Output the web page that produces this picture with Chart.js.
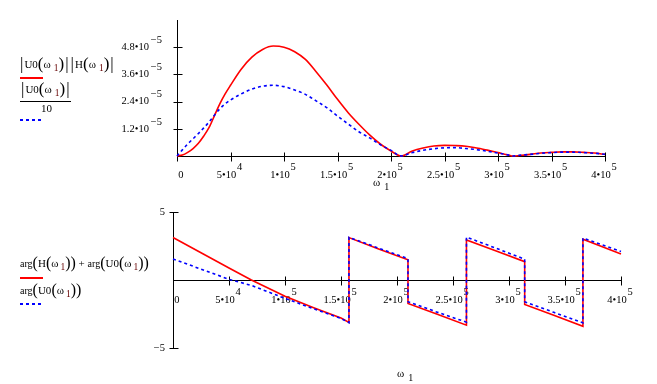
<!DOCTYPE html>
<html><head><meta charset="utf-8">
<script src="https://cdn.jsdelivr.net/npm/chart.js@4/dist/chart.umd.min.js"></script>
<style>
html,body{margin:0;padding:0;background:#fff;}
body{width:657px;height:384px;overflow:hidden;position:relative;font-family:"Liberation Serif","Times New Roman",serif;}
canvas{position:absolute;left:0;}
#c1{top:0;}
#c2{top:195px;}
.lg{position:absolute;white-space:nowrap;color:#000;font-size:11px;line-height:18px;height:18px;}
.lg .p{font-size:17px;vertical-align:-1px;}
.lg .b{font-size:17px;vertical-align:-1px;margin:0 1px;}
.lg .s{font-size:9.5px;position:relative;top:3px;color:#600;margin-left:3px;}
.lg .a{font-size:10px;}
.lg2 .p{font-size:16px;}
.lg2 .s{margin-left:2px;}
.ln{position:absolute;width:23px;height:2px;}
.red{background:#ff0000;}
.blue{background:repeating-linear-gradient(to right,#0000ff 0 3px,transparent 3px 6px);}
.fb{position:absolute;height:1px;background:#000;}
.tt{position:absolute;white-space:nowrap;color:#000;font-size:11px;line-height:12px;}
.tt .s{font-size:10px;position:relative;top:4px;margin-left:4px;}
</style></head>
<body>
<canvas id="c1" width="657" height="195"></canvas>
<canvas id="c2" width="657" height="189"></canvas>

<div class="lg" style="left:19px;top:55px"><span class="b">|</span>U0<span class="p">(</span>ω<span class="s">1</span><span class="p">)</span><span class="b">|</span><span class="b">|</span>H<span class="p">(</span>ω<span class="s">1</span><span class="p">)</span><span class="b">|</span></div>
<div class="ln red" style="left:20px;top:77px"></div>
<div class="lg" style="left:20px;top:80px"><span class="b">|</span>U0<span class="p">(</span>ω<span class="s">1</span><span class="p">)</span><span class="b">|</span></div>
<div class="fb" style="left:20px;top:101px;width:51px"></div>
<div class="lg" style="left:41px;top:99px">10</div>
<div class="ln blue" style="left:20px;top:119px"></div>

<div class="lg lg2" style="left:20px;top:254px"><span class="a">arg</span><span class="p">(</span>H<span class="p">(</span>ω<span class="s">1</span><span class="p">)</span><span class="p">)</span> + <span class="a">arg</span><span class="p">(</span>U0<span class="p">(</span>ω<span class="s">1</span><span class="p">)</span><span class="p">)</span></div>
<div class="ln red" style="left:20px;top:277px"></div>
<div class="lg lg2" style="left:20px;top:281px"><span class="a">arg</span><span class="p">(</span>U0<span class="p">(</span>ω<span class="s">1</span><span class="p">)</span><span class="p">)</span></div>
<div class="ln blue" style="left:20px;top:303px"></div>

<div class="tt" style="left:373px;top:176px">ω<span class="s">1</span></div>
<div class="tt" style="left:397px;top:367px">ω<span class="s">1</span></div>

<script>
// ---- data ----
const magOmega = [0, 5000, 10000, 15000, 20000, 25000, 30000, 35000, 40000, 45000, 50000, 60000, 70000, 80000, 90000, 100000, 110000, 120000, 130000, 140000, 150000, 160000, 170000, 180000, 190000, 200000, 209500, 220000, 230000, 240000, 250000, 260000, 270000, 280000, 290000, 300000, 310000, 314000, 320000, 330000, 340000, 350000, 360000, 370000, 380000, 390000, 400000];
// |U0(w1)|*|H(w1)|
const magU0H = [0, 0.04e-5, 0.16e-5, 0.33e-5, 0.56e-5, 0.88e-5, 1.26e-5, 1.78e-5, 2.3e-5, 2.74e-5, 3.12e-5, 3.83e-5, 4.36e-5, 4.7e-5, 4.85e-5, 4.8e-5, 4.6e-5, 4.26e-5, 3.72e-5, 3.13e-5, 2.5e-5, 1.91e-5, 1.4e-5, 0.93e-5, 0.53e-5, 0.22e-5, 0, 0.22e-5, 0.35e-5, 0.44e-5, 0.47e-5, 0.46e-5, 0.43e-5, 0.35e-5, 0.26e-5, 0.15e-5, 0.04e-5, 0, 0.02e-5, 0.07e-5, 0.13e-5, 0.16e-5, 0.18e-5, 0.18e-5, 0.16e-5, 0.13e-5, 0.07e-5];
// |U0(w1)|/10
const magU0 = [0, 0.27e-5, 0.53e-5, 0.76e-5, 0.99e-5, 1.24e-5, 1.5e-5, 1.8e-5, 2.08e-5, 2.3e-5, 2.47e-5, 2.74e-5, 2.95e-5, 3.08e-5, 3.12e-5, 3.06e-5, 2.91e-5, 2.72e-5, 2.43e-5, 2.13e-5, 1.76e-5, 1.41e-5, 1.07e-5, 0.8e-5, 0.5e-5, 0.25e-5, 0, 0.15e-5, 0.25e-5, 0.32e-5, 0.36e-5, 0.37e-5, 0.33e-5, 0.28e-5, 0.21e-5, 0.13e-5, 0.04e-5, 0, 0.03e-5, 0.07e-5, 0.12e-5, 0.15e-5, 0.17e-5, 0.17e-5, 0.15e-5, 0.12e-5, 0.08e-5];

const phaseOmega = [0, 25000, 50000, 70000, 100000, 125000, 150000, 157100, 157100, 183000, 209800, 209800, 236000, 262000, 262000, 288000, 314000, 314000, 340000, 366000, 366000, 400000];
// arg(H(w1)) + arg(U0(w1))
const phaseSum = [3.12, 2.0, 0.88, 0, -1.2, -2.02, -2.8, -3.12, 3.12, 2.3, 1.48, -1.72, -2.52, -3.32, 2.95, 2.15, 1.35, -1.8, -2.6, -3.4, 3.0, 1.92];
// arg(U0(w1))
const phaseU0 = [1.55, 0.8, 0.05, -0.4, -1.35, -2.1, -2.82, -3.14, 3.14, 2.36, 1.57, -1.6, -2.37, -3.1, 3.15, 2.35, 1.53, -1.6, -2.38, -3.15, 3.08, 2.09];

const xTickBase = ['0', '5•10', '1•10', '1.5•10', '2•10', '2.5•10', '3•10', '3.5•10', '4•10'];
const xTickExp  = ['', '4', '5', '5', '5', '5', '5', '5', '5'];
const magTickBase = ['', '1.2•10', '2.4•10', '3.6•10', '4.8•10', ''];
const magTickExp = '−5';
const phaseTickLabels = ['−5', '', '5'];

// ---- helpers ----
const FAMILY = '"Liberation Serif", "Times New Roman", serif';
const FSIZE = 10.5;
const mctx = document.createElement('canvas').getContext('2d');
mctx.font = FSIZE + 'px ' + FAMILY;
const wOf = s => mctx.measureText(s).width;
const SP = wOf(' ');

function xLabel(value) {
  const k = Math.round(value / 50000);
  const base = xTickBase[k], exp = xTickExp[k];
  if (base === undefined) return '';
  if (!exp) return ['', '   ' + base];
  const t = 3;
  const lead = Math.max(0, Math.round((wOf(base) - t * SP + wOf(exp) + 1) / SP));
  return [' '.repeat(lead) + exp, base + ' '.repeat(t)];
}
function magLabel(value) {
  const k = Math.round(value / 1.2e-5);
  const base = magTickBase[k];
  if (!base) return '';
  const n = Math.round((wOf(magTickExp) + 1) / SP);
  return [magTickExp, base + ' '.repeat(n), ''];
}
function phaseLabel(value) {
  const k = Math.round(value / 5) + 1;
  return phaseTickLabels[k] || '';
}

const axesPlugin = {
  id: 'mcAxes',
  beforeDatasetsDraw(chart, args, opts) {
    const {ctx, chartArea: a, scales: {x, y}} = chart;
    const y0 = Math.round(y.getPixelForValue(0)) + 0.5;
    const x0 = Math.round(x.getPixelForValue(0)) + 0.5;
    ctx.save();
    ctx.strokeStyle = '#000';
    ctx.lineWidth = 1;
    ctx.beginPath();
    ctx.moveTo(x0, a.top); ctx.lineTo(x0, a.bottom);
    ctx.moveTo(a.left, y0); ctx.lineTo(a.right + 1, y0);
    x.ticks.forEach(t => {
      const px = Math.round(x.getPixelForValue(t.value)) + 0.5;
      ctx.moveTo(px, y0 - 4); ctx.lineTo(px, y0 + 5);
    });
    y.ticks.forEach(t => {
      if (!opts.yMark(t.value)) return;
      const py = Math.round(y.getPixelForValue(t.value)) + 0.5;
      ctx.moveTo(x0 - 4, py); ctx.lineTo(x0 + 5, py);
    });
    ctx.stroke();
    ctx.restore();
  }
};

function series(xs, ys) { return xs.map((w, i) => ({x: w, y: ys[i]})); }

const tickFontX = {family: FAMILY, size: FSIZE, lineHeight: '8px'};
const tickFontY = {family: FAMILY, size: FSIZE, lineHeight: '7px'};
const noGrid = {display: false, drawTicks: false, tickLength: 0};

new Chart(document.getElementById('c1'), {
  type: 'line',
  data: {datasets: [
    {data: series(magOmega, magU0H), borderColor: '#ff0000', borderWidth: 1.6, pointRadius: 0,
     cubicInterpolationMode: 'monotone', fill: false, order: 1, clip: 6},
    {data: series(magOmega, magU0), borderColor: '#0000ff', borderWidth: 1.6, borderDash: [3, 3], pointRadius: 0,
     cubicInterpolationMode: 'monotone', fill: false, order: 0, clip: 6}
  ]},
  options: {
    responsive: false, animation: false, devicePixelRatio: 1,
    layout: {padding: {left: 77, right: 52, top: 20, bottom: 0}},
    plugins: {legend: {display: false}, tooltip: {enabled: false},
      mcAxes: {yMark: v => { const k = Math.round(v / 1.2e-5); return k >= 1 && k <= 4; }}},
    scales: {
      x: {type: 'linear', min: 0, max: 400000, grid: noGrid, border: {display: false},
          ticks: {stepSize: 50000, autoSkip: false, maxRotation: 0, padding: 7, color: '#000', font: tickFontX, callback: xLabel},
          afterFit(s) { s.height = 39; }},
      y: {type: 'linear', min: 0, max: 6e-5, grid: noGrid, border: {display: false},
          ticks: {stepSize: 1.2e-5, autoSkip: false, padding: 15, color: '#000', font: tickFontY, callback: magLabel},
          afterFit(s) { s.width = 100; }}
    }
  },
  plugins: [axesPlugin]
});

new Chart(document.getElementById('c2'), {
  type: 'line',
  data: {datasets: [
    {data: series(phaseOmega, phaseSum), borderColor: '#ff0000', borderWidth: 1.6, pointRadius: 0,
     tension: 0, fill: false, order: 1, clip: 6},
    {data: series(phaseOmega, phaseU0), borderColor: '#0000ff', borderWidth: 1.6, borderDash: [3, 3], pointRadius: 0,
     tension: 0, fill: false, order: 0, clip: 6}
  ]},
  options: {
    responsive: false, animation: false, devicePixelRatio: 1,
    layout: {padding: {left: 73, right: 36, top: 17, bottom: 36}},
    plugins: {legend: {display: false}, tooltip: {enabled: false},
      mcAxes: {yMark: v => Math.abs(v) > 0.1}},
    scales: {
      x: {type: 'linear', min: 0, max: 400000, position: {y: 0}, grid: noGrid, border: {display: false},
          ticks: {stepSize: 50000, autoSkip: false, maxRotation: 0, padding: 8, color: '#000', font: tickFontX, callback: xLabel}},
      y: {type: 'linear', position: 'left', min: -5, max: 5, grid: noGrid, border: {display: false},
          ticks: {stepSize: 5, autoSkip: false, padding: 8, color: '#000', font: tickFontY, callback: phaseLabel},
          afterFit(s) { s.width = 100; }}
    }
  },
  plugins: [axesPlugin]
});
</script>
</body></html>
